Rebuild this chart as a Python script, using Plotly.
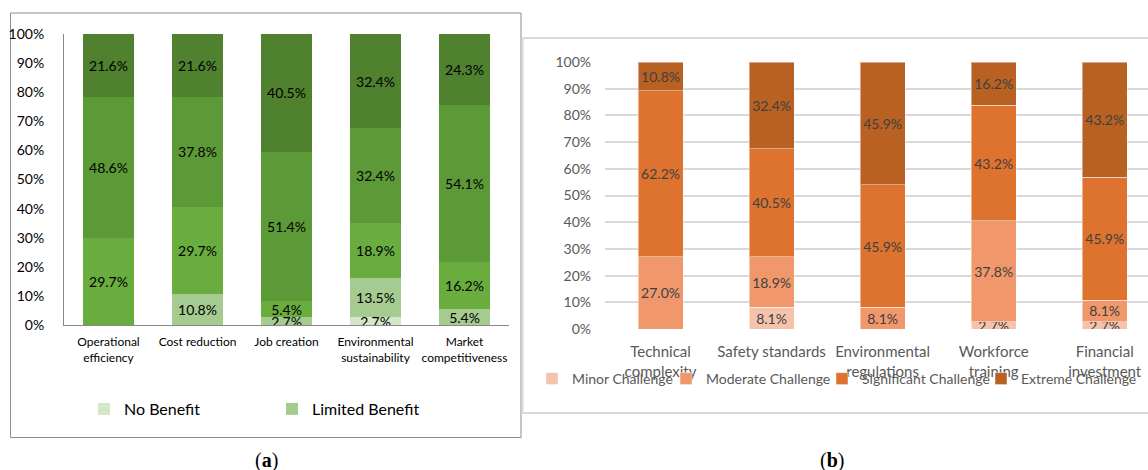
import plotly.graph_objects as go

W, H = 1148, 470

# ---------------- Panel (a) data ----------------
cats_a = ["Operational<br>efficiency", "Cost reduction", "Job creation",
          "Environmental<br>sustainability", "Market<br>competitiveness"]
no_benefit = [0, 0, 0, 2.7, 0]
limited_benefit = [0, 10.8, 2.7, 13.5, 5.4]
moderate_benefit = [29.7, 29.7, 5.4, 18.9, 16.2]
significant_benefit = [48.6, 37.8, 51.4, 32.4, 54.1]
extreme_benefit = [21.6, 21.6, 40.5, 32.4, 24.3]

# ---------------- Panel (b) data ----------------
cats_b = ["Technical<br>complexity", "Safety standards", "Environmental<br>regulations",
          "Workforce<br>training", "Financial<br>investment"]
minor_challenge = [0, 8.1, 0, 2.7, 2.7]
moderate_challenge = [27.0, 18.9, 8.1, 37.8, 8.1]
significant_challenge = [62.2, 40.5, 45.9, 43.2, 45.9]
extreme_challenge = [10.8, 32.4, 45.9, 16.2, 43.2]

FONT = "Lato"


def lbl(vals):
    return [f"{v:.1f}%" if v > 0 else "" for v in vals]


def px_x(p):
    return p / W


def px_y(p):
    return 1 - p / H


fig = go.Figure()

# (name, values, colour, legend id or None)
series_a = [
    ("No Benefit", no_benefit, "#d4e7c8", "legend"),
    ("Limited Benefit", limited_benefit, "#a6cb90", "legend2"),
    ("Moderate Benefit", moderate_benefit, "#6aad3f", None),
    ("Significant Benefit", significant_benefit, "#5c9a37", None),
    ("Extreme Benefit", extreme_benefit, "#4f812f", None),
]
for name, vals, col, leg in series_a:
    fig.add_trace(go.Bar(
        x=cats_a, y=vals, name=name, marker=dict(color=col, line=dict(width=0)),
        text=lbl(vals), textposition="inside", insidetextanchor="middle", textangle=0,
        textfont=dict(family=FONT, size=14, color="#000000"),
        width=0.57, xaxis="x", yaxis="y",
        showlegend=leg is not None, legend=leg or "legend",
        hoverinfo="skip"))

series_b = [
    ("Minor Challenge", minor_challenge, "#f5c3ab", "legend3"),
    ("Moderate Challenge", moderate_challenge, "#f0986b", "legend4"),
    ("Significant Challenge", significant_challenge, "#dd732e", "legend5"),
    ("Extreme Challenge", extreme_challenge, "#b96123", "legend6"),
]
for name, vals, col, leg in series_b:
    fig.add_trace(go.Bar(
        x=cats_b, y=vals, name=name,
        marker=dict(color=col, line=dict(width=1, color="rgba(255,255,255,0.45)")),
        text=lbl(vals), textposition="inside", insidetextanchor="middle", textangle=0,
        textfont=dict(family=FONT, size=14, color="#404040"),
        width=0.405, xaxis="x2", yaxis="y2", showlegend=True, legend=leg,
        hoverinfo="skip"))

shapes = [
    dict(type="rect", xref="paper", yref="paper", x0=px_x(10.5), x1=px_x(521), y0=px_y(437.5), y1=px_y(13),
         line=dict(color="#8c8c8c", width=1), layer="below"),
    dict(type="rect", xref="paper", yref="paper", x0=px_x(522.5), x1=px_x(1152), y0=px_y(413), y1=px_y(38),
         line=dict(color="#d9d9d9", width=2), layer="below"),
]


def leg(x_text_px, y_px, size, color):
    # text of a legend item starts 40 px right of the legend's left edge
    return dict(orientation="h", x=px_x(x_text_px - 40), xanchor="left", y=px_y(y_px), yanchor="middle",
                font=dict(family=FONT, size=size, color=color), bgcolor="rgba(0,0,0,0)",
                borderwidth=0)


fig.update_layout(
    width=W, height=H, autosize=False,
    margin=dict(l=0, r=0, t=0, b=0, autoexpand=False),
    paper_bgcolor="white", plot_bgcolor="white",
    barmode="stack", barnorm="percent",
    uniformtext=dict(minsize=14, mode="show"),
    font=dict(family=FONT),
    shapes=shapes,
    xaxis=dict(domain=[px_x(64), px_x(509)], range=[-0.5, 4.5], type="category",
               showline=True, linecolor="#888888", linewidth=1, ticks="", tickangle=0,
               tickfont=dict(family=FONT, size=12, color="#000000"), automargin=False,
               ticklabelstandoff=6, showgrid=False, zeroline=False, anchor="y"),
    yaxis=dict(domain=[px_y(325), px_y(34)], range=[0, 100], dtick=10, ticksuffix="%",
               showline=True, linecolor="#888888", linewidth=1, ticks="", automargin=False,
               tickfont=dict(family=FONT, size=14, color="#000000"), ticklabelstandoff=16,
               showgrid=False, zeroline=False, anchor="x"),
    xaxis2=dict(domain=[px_x(605), 1.0], range=[-0.5, 4.39], type="category",
                showline=False, ticks="", tickangle=0, automargin=False,
                tickfont=dict(family=FONT, size=15, color="#595959"), ticklabelstandoff=12,
                showgrid=False, zeroline=False, anchor="y2"),
    yaxis2=dict(domain=[px_y(329), px_y(62)], range=[0, 100], dtick=10, ticksuffix="%",
                showline=False, ticks="", showgrid=True, gridcolor="#d9d9d9", gridwidth=2,
                tickfont=dict(family=FONT, size=14, color="#595959"), ticklabelstandoff=13,
                automargin=False, zeroline=False, anchor="x2"),
    legend=leg(124, 409, 16, "#000000"),
    legend2=leg(312, 409, 16, "#000000"),
    legend3=leg(572, 379, 14, "#595959"),
    legend4=leg(706, 379, 14, "#595959"),
    legend5=leg(862, 379, 14, "#595959"),
    legend6=leg(1021, 379, 14, "#595959"),
    annotations=[
        dict(text="(<b>a</b>)", xref="paper", yref="paper", x=px_x(266.5), y=px_y(460),
             xanchor="center", yanchor="middle", showarrow=False,
             font=dict(family="Liberation Serif", size=20, color="#000000")),
        dict(text="(<b>b</b>)", xref="paper", yref="paper", x=px_x(832), y=px_y(460),
             xanchor="center", yanchor="middle", showarrow=False,
             font=dict(family="Liberation Serif", size=20, color="#000000")),
    ],
)

fig.write_html("out.html")
